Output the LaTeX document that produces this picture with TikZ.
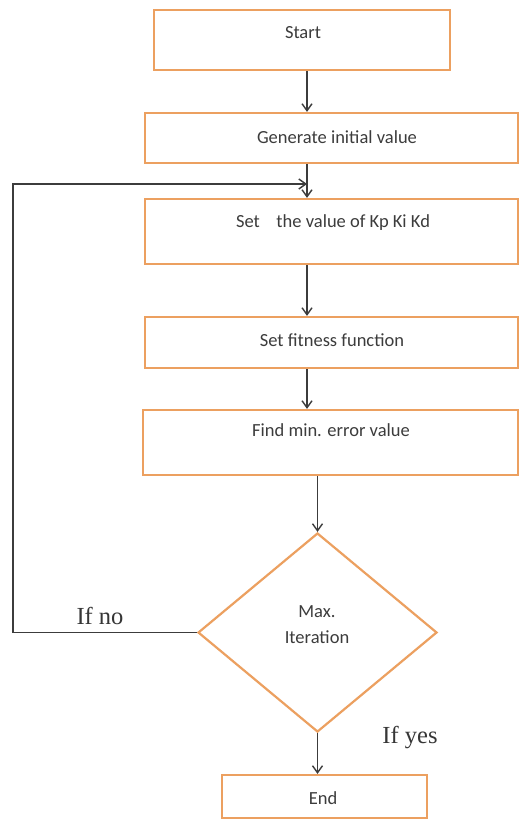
\documentclass[tikz,border=0pt]{standalone}
\usepackage{fontspec}
\setmainfont{Carlito}
\newfontfamily\serifx{Liberation Serif}
\usetikzlibrary{shapes.geometric,arrows.meta}
\definecolor{boxor}{RGB}{236,160,96}
\definecolor{ink}{RGB}{60,60,60}
\begin{document}
\begin{tikzpicture}[x=1pt,y=-1pt,
  box/.style={draw=boxor, line width=2.2pt, fill=white, inner sep=0pt},
  txt/.style={font=\fontsize{18.5}{26}\selectfont, text=ink, inner sep=0pt, align=center},
  lbl/.style={font=\serifx\fontsize{24.5}{28}\selectfont, text=ink!90!black, inner sep=0pt},
  arr/.style={draw=ink, line width=1.4pt, -{Straight Barb[length=7pt,width=10pt]}}]
\useasboundingbox[fill=white] (0,0) rectangle (520,821);
% boxes
\node[box, minimum width=296pt, minimum height=60pt] (start) at (302,40) {};
\node[box, minimum width=373pt, minimum height=50pt] (gen) at (331.5,138) {};
\node[box, minimum width=373pt, minimum height=65pt] (set) at (331.5,231.5) {};
\node[box, minimum width=373pt, minimum height=51pt] (fit) at (331.5,342.5) {};
\node[box, minimum width=375pt, minimum height=65pt] (find) at (330.5,442.5) {};
\node[box, diamond, minimum width=239pt, minimum height=199pt] (dia) at (317.5,632.5) {};
\node[box, minimum width=205pt, minimum height=43pt] (end) at (324.5,796.5) {};
% texts
\node[txt] (tstart) at (303,33) {Start};
\node[txt] (tgen) at (337,137) {Generate initial value};
\node[txt] (tset) at (333,223) {Set\hspace{0.9em}the value of Kp Ki Kd};
\node[txt] (tfit) at (332,340) {Set fitness function};
\node[txt] (tfind) at (331,430) {Find min. error value};
\node[txt] (tmax) at (317,625) {Max.\\Iteration};
\node[txt] (tend) at (323,798) {End};
\node[lbl] (ifno) at (100,616) {If no};
\node[lbl] (ifyes) at (410,738) {If yes};
% connectors
\coordinate (colA) at (307,0);
\coordinate (lc) at (13,0);
\coordinate (lt) at (307,184);
\draw[arr] (start.south -| colA) -- (gen.north -| colA);
\draw[arr] (gen.south -| colA) -- (set.north -| colA);
\draw[arr] (set.south -| colA) -- (fit.north -| colA);
\draw[arr] (fit.south -| colA) -- (find.north -| colA);
\draw[arr] (find.south -| dia.north) -- (dia.north);
\draw[arr] (dia.south) -- (dia.south |- end.north);
\draw[arr] (dia.west) -- (dia.west -| lc) -- (lt -| lc) -- (lt);
\end{tikzpicture}
\end{document}
